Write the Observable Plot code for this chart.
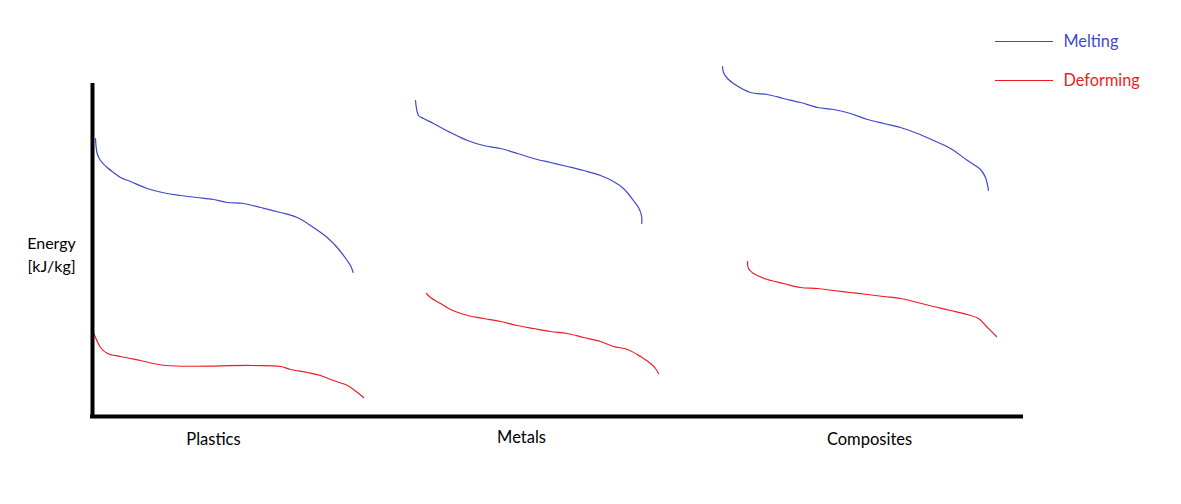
<!DOCTYPE html>
<html>
<head>
<meta charset="utf-8">
<script src="https://cdn.jsdelivr.net/npm/d3@7"></script>
<script src="https://cdn.jsdelivr.net/npm/@observablehq/plot@0.6"></script>
<style>
  html, body { margin: 0; padding: 0; background: #fff; }
  #chart svg { display: block; }
</style>
</head>
<body>
<div id="chart"></div>
<script>
// Categories and their label positions along the x axis
const categories = ["Plastics", "Metals", "Composites"];
const categoryX = [213, 521, 869];
const categoryY = [-23, -21, -23];

// Processes (legend)
const processes = ["Melting", "Deforming"];
const processColors = ["#3f48cc", "#ed1c24"];

// Curves: [position, energy]
const plasticsMelting = [[95,278],[96.7,263],[100,256],[106.7,249],[113,244],[120,239],[130,235],[146.7,228],[166.7,223],[180,221],[196.7,219],[213,217],[226.7,214],[243,213],[260,209],[280,204],[296.7,199],[313,189],[326.7,179],[336.7,169],[346.7,156],[350,151],[352.7,144]];
const plasticsDeforming = [[92,86],[95,79],[100,69],[107,63],[120,60],[140,56],[165,51],[252,51],[280,50],[290,47],[307,44],[320,41],[333,36],[347,31],[357,24],[363,19]];
const metalsMelting = [[415,316],[416,308],[418,301],[423,298],[433,293],[450,284],[467,276],[483,271],[500,268],[517,263],[533,258],[550,254],[567,250],[583,246],[600,241],[613,235],[623,228],[633,216],[638,209],[641,201],[641.3,193]];
const metalsDeforming = [[426,123],[430,119],[440,113],[450,107],[467,101],[483,98],[500,95],[517,91],[533,88],[550,85],[567,83],[583,79],[600,75],[613,70],[627,67],[640,60],[650,53],[655,48],[658,43]];
const compositesMelting = [[722,350],[723,344],[727,338],[733,333],[750,324],[767,322],[783,318],[800,314],[817,309],[833,307],[850,303],[867,297],[883,293],[900,289],[917,283],[933,276],[950,268],[967,256],[980,247],[985,239],[988,226]];
const compositesDeforming = [[747,155],[748,148],[753,143],[767,137],[783,133],[800,129],[817,128],[833,126],[850,124],[867,122],[883,120],[900,118],[917,114],[933,110],[950,106],[967,102],[978,98],[987,89],[996,80]];

// Axis extents
const xAxisRange = [90, 1023];
const yAxisRange = [-2, 333];
const yAxisX = 92;

// Legend layout values
const legendLineX = [995, 1053];
const legendTextX = 1063;
const legendY = [375, 336];

const series = [
  ["Plastics", "Melting", plasticsMelting],
  ["Plastics", "Deforming", plasticsDeforming],
  ["Metals", "Melting", metalsMelting],
  ["Metals", "Deforming", metalsDeforming],
  ["Composites", "Melting", compositesMelting],
  ["Composites", "Deforming", compositesDeforming]
];
const rows = series.flatMap(([material, process, pts]) =>
  pts.map(([x, energy]) => ({material, process, key: material + "-" + process, x, energy})));

const legendRows = processes.map((p, i) => ({process: p, y: legendY[i]}));
const catRows = categories.map((c, i) => ({name: c, x: categoryX[i], y: categoryY[i]}));

const font = "Lato, 'Open Sans', sans-serif";

const chart = Plot.plot({
  width: 1181,
  height: 504,
  margin: 0,
  style: {fontFamily: font, background: "#fff"},
  x: {domain: [0, 1181], axis: null},
  y: {domain: [-88, 416], axis: null},
  color: {domain: processes, range: processColors},
  marks: [
    Plot.line(rows, {x: "x", y: "energy", z: "key", stroke: "process", strokeWidth: 1.2, curve: "catmull-rom"}),
    Plot.ruleY([0], {x1: xAxisRange[0], x2: xAxisRange[1], stroke: "#000", strokeWidth: 4}),
    Plot.ruleX([yAxisX], {y1: yAxisRange[0], y2: yAxisRange[1], stroke: "#000", strokeWidth: 4}),
    Plot.text(catRows, {x: "x", y: "y", text: "name", fill: "#000", fontSize: 16.5, textAnchor: "middle"}),
    Plot.text(["Energy\n[kJ/kg]"], {x: 51, y: 163.5, text: d => d, fill: "#000", fontSize: 16, lineHeight: 1.45, textAnchor: "middle"}),
    Plot.ruleY(legendRows, {y: "y", x1: legendLineX[0], x2: legendLineX[1], stroke: "process", strokeWidth: 1.2}),
    Plot.text(legendRows, {x: legendTextX, y: "y", text: "process", fill: "process", fontSize: 16.3, textAnchor: "start"})
  ]
});
document.getElementById("chart").appendChild(chart);
</script>
</body>
</html>
